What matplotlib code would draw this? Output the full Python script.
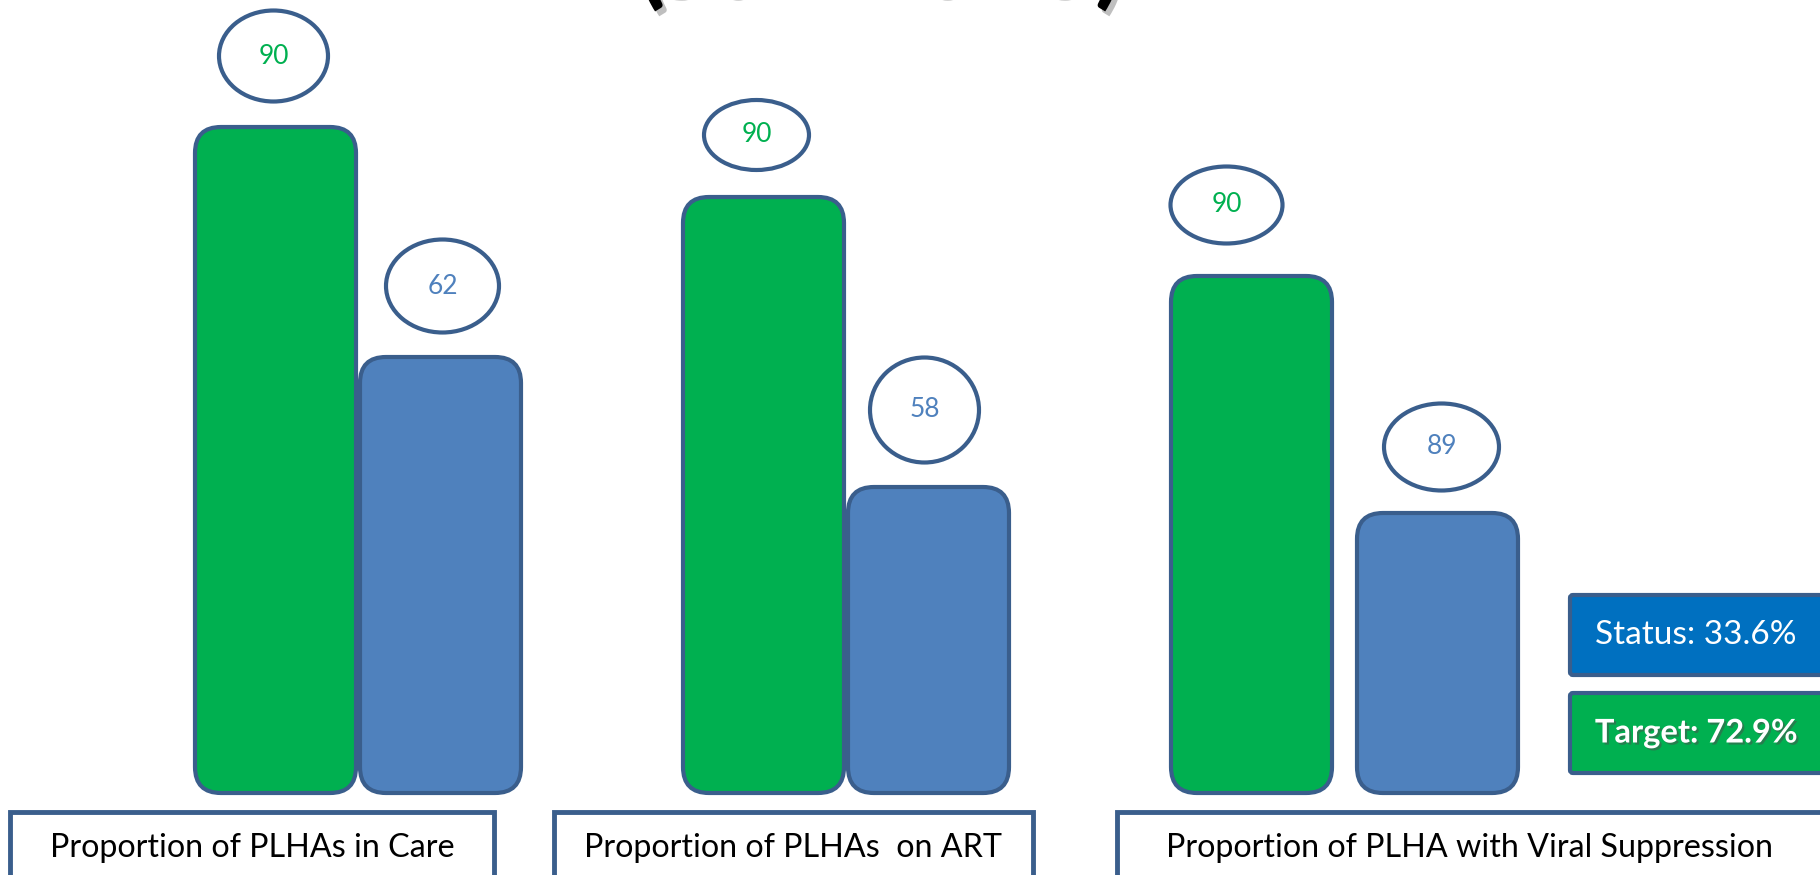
import numpy as np
import matplotlib.pyplot as plt
from matplotlib.patches import FancyBboxPatch, Ellipse
import matplotlib.patheffects as pe

plt.rcParams['font.family'] = ['Lato', 'DejaVu Sans']

# data
categories = ["Proportion of PLHAs in Care", "Proportion of PLHAs  on ART",
              "Proportion of PLHA with Viral Suppression"]
target_heights = [66.6, 59.6, 51.7]
status_heights = [43.6, 30.6, 28.0]
target_labels = ["90", "90", "90"]
status_labels = ["62", "58", "89"]
status_text = "Status: 33.6%"
target_text = "Target: 72.9%"
title = "(Jun 2015)"

GREEN = '#00B050'
BLUE = '#4F81BD'
EDGE = '#3A5E8C'
STATUS_BLUE = '#0070C0'

W, H = 1820, 875
base_px = 793          # pixel row (from top) of the bar baseline
px_per_unit = 10.0

fig = plt.figure(figsize=(W / 100, H / 100), dpi=100)

# chart axes: x in pixels, y in value units
ax = fig.add_axes([0, 0, 1, 1])
ax.set_xlim(0, W)
ax.set_ylim(-(H - base_px) / px_per_unit, base_px / px_per_unit)
ax.axis('off')

# overlay axes in pixel coords for the boxes and title
lay = fig.add_axes([0, 0, 1, 1], zorder=3)
lay.set_xlim(0, W)
lay.set_ylim(H, 0)
lay.axis('off')
lay.patch.set_alpha(0)

bar_w = 161
group_x = [195 + 488 * i for i in range(3)]
blue_gap = [4, 4, 25]
asp = 1 / px_per_unit

# ellipse layout (width px, height px, x shift px, offset above bar px)
g_ell = [(109, 91, -2, 71), (105, 70, -7, 62), (112, 77, -25, 71)]
b_ell = [(113, 93, 2, 71), (109, 105, -4, 77), (115, 87, 4, 66)]


def rounded_bar(x, h, color):
    p = FancyBboxPatch((x, 0), bar_w, h,
                       boxstyle="round,pad=0,rounding_size=26",
                       mutation_aspect=asp, facecolor=color,
                       edgecolor=EDGE, linewidth=3)
    ax.add_patch(p)


def label_ellipse(xc, top, spec, text, color):
    w, h, dx, off = spec
    cy = top + off / px_per_unit
    e = Ellipse((xc + dx, cy), w, h / px_per_unit, facecolor='white',
                edgecolor=EDGE, linewidth=3)
    ax.add_patch(e)
    ax.text(xc + dx, cy, text, ha='center', va='center', fontsize=19,
            color=color)


for i in range(3):
    gx = group_x[i]
    bx = gx + bar_w + blue_gap[i]
    rounded_bar(gx, target_heights[i], GREEN)
    rounded_bar(bx, status_heights[i], BLUE)
    label_ellipse(gx + bar_w / 2, target_heights[i], g_ell[i],
                  target_labels[i], GREEN)
    label_ellipse(bx + bar_w / 2, status_heights[i], b_ell[i],
                  status_labels[i], BLUE)

# category boxes along the bottom
cat_boxes = [(10, 494), (554, 1033), (1117, 1823)]
for (x0, x1), name in zip(cat_boxes, categories):
    lay.add_patch(plt.Rectangle((x0, 812), x1 - x0, 80, facecolor='white',
                                edgecolor=EDGE, linewidth=3.5,
                                clip_on=False))
    lay.text((x0 + x1) / 2, 848, name, ha='center', va='center',
             fontsize=23.2, color='black')

# status / target boxes
for y0, txt, col, wt, fs in [(595, status_text, STATUS_BLUE, 'normal', 24),
                             (693, target_text, GREEN, 'bold', 23.5)]:
    lay.add_patch(FancyBboxPatch((1570, y0), 260, 80,
                                 boxstyle="round,pad=0,rounding_size=3",
                                 facecolor=col, edgecolor=EDGE,
                                 linewidth=3))
    t = lay.text(1696, y0 + 40, txt, ha='center', va='center',
                 fontsize=fs, color='white', fontweight=wt)
    if wt == 'bold':
        t.set_path_effects([pe.SimplePatchShadow(offset=(1.5, -1.5),
                                                 alpha=0.5),
                            pe.Normal()])

# title, mostly above the visible area
lay.text(880, -5, title, ha='center', va='baseline', fontsize=75,
         fontweight='bold', color='black',
         path_effects=[pe.SimplePatchShadow(offset=(3, -3.5), alpha=0.25),
                       pe.Normal()])

fig.savefig('out.png', dpi=100)
